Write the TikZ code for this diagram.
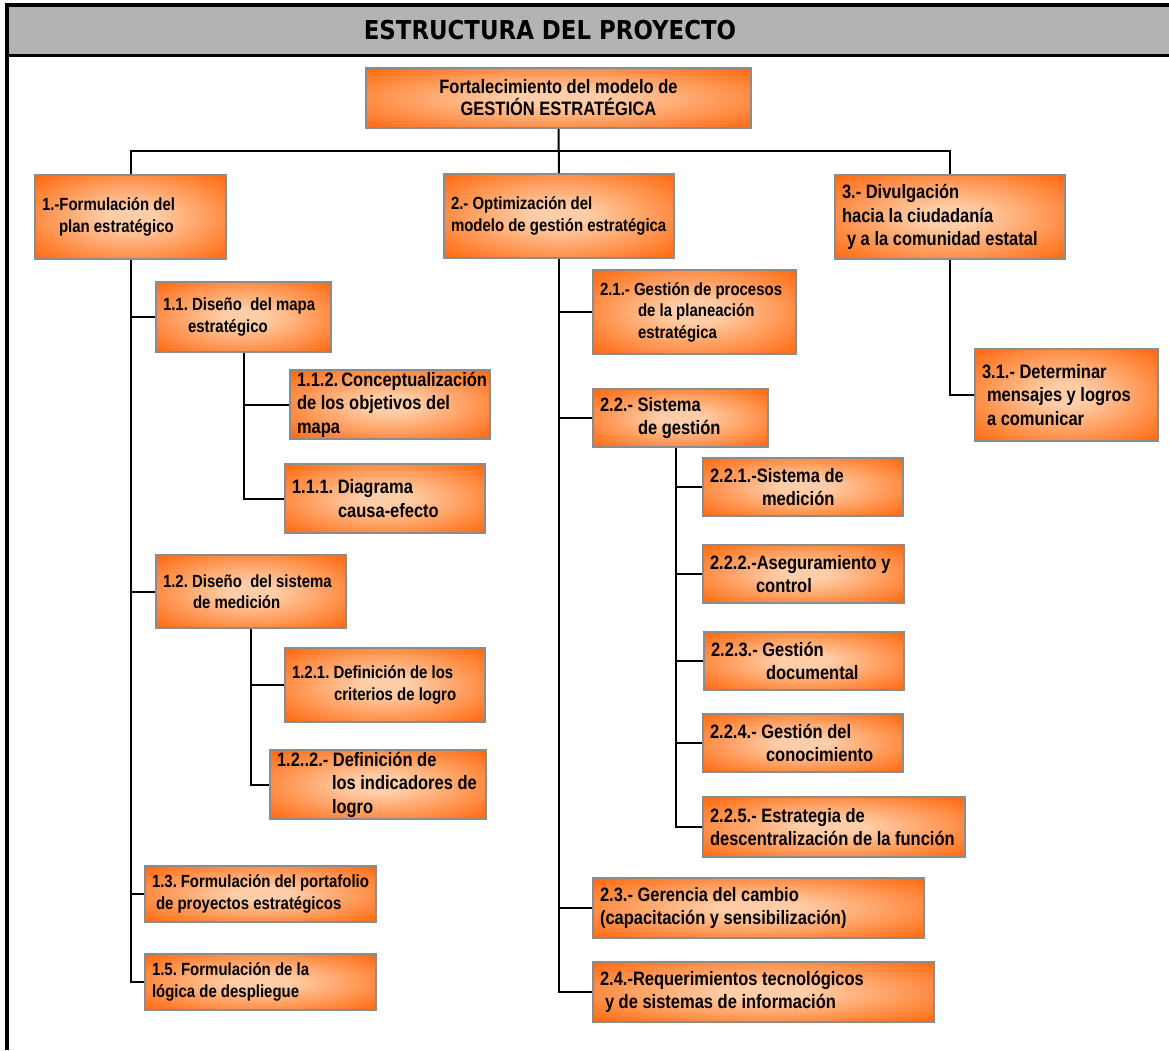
\documentclass[tikz,border=0pt]{standalone}
\usepackage{fontspec}
\setmainfont[FakeStretch=0.85]{Liberation Sans}
\newfontfamily\fuentetitulo[FakeStretch=0.88]{DejaVu Sans}
\definecolor{naranja}{RGB}{255,98,4}
\definecolor{claro}{RGB}{255,206,168}
\definecolor{borde}{RGB}{140,140,140}
\definecolor{gris}{RGB}{179,179,179}
\pgfdeclareradialshading{degradado}{\pgfpoint{0bp}{0bp}}{color(0bp)=(claro); color(6bp)=(claro); color(37bp)=(naranja); color(50bp)=(naranja)}
\frenchspacing
\begin{document}
\begin{tikzpicture}[x=1pt,y=-1pt,
  caja/.style={draw=borde,line width=2pt,shading=degradado,anchor=north west,inner xsep=7pt,inner ysep=0pt,align=flush left,execute at begin node={\hyphenpenalty=10000\exhyphenpenalty=10000}},
  letraA/.style={font=\bfseries\fontsize{17.6}{21.5}\selectfont\frenchspacing},
  letraB/.style={font=\bfseries\fontsize{19.4}{23.5}\selectfont\frenchspacing},
  linea/.style={line width=2pt}]
\useasboundingbox (0,0) rectangle (1169,1050);
\fill[gris] (7,5) rectangle (1169,55.5);
\draw[line width=4pt] (1169,5) -- (7,5) -- (7,1050);
\draw[line width=3pt] (7,55.5) -- (1169,55.5);
\node[font=\fuentetitulo\bfseries\fontsize{26}{28}\selectfont] (titulo) at (550,30) {ESTRUCTURA DEL PROYECTO};
\node[caja,align=flush center,font=\bfseries\fontsize{19.4}{22}\selectfont\frenchspacing,minimum width=385pt,minimum height=60pt,text width=371pt] (raiz) at (365,67) {Fortalecimiento del modelo de\\GESTIÓN ESTRATÉGICA};
\node[caja,letraA,minimum width=191pt,minimum height=84pt,text width=177pt] (p1) at (34,174) {1.-Formulación del\\\hspace*{17pt}plan estratégico};
\node[caja,letraA,minimum width=230pt,minimum height=84pt,text width=216pt] (p2) at (443,173) {2.- Optimización del\\modelo~de~gestión~estratégica};
\node[caja,letraB,minimum width=230pt,minimum height=84pt,text width=216pt] (p3) at (834,174) {3.- Divulgación\\hacia la ciudadanía\\\hspace*{5pt}y~a~la~comunidad~estatal};
\node[caja,letraA,minimum width=175pt,minimum height=70pt,text width=161pt] (p11) at (155,281) {1.1.~Diseño~~del~mapa\\\hspace*{25pt}estratégico};
\node[caja,letraB,minimum width=200pt,minimum height=69pt,text width=186pt] (p112) at (289,369) {1.1.2.~Conceptualización\\de los objetivos del\\mapa};
\node[caja,letraB,minimum width=200pt,minimum height=69pt,text width=186pt] (p111) at (284,463) {1.1.1. Diagrama\\\hspace*{46pt}causa-efecto};
\node[caja,letraA,minimum width=190pt,minimum height=73pt,text width=176pt] (p12) at (155,554) {1.2.~Diseño~~del~sistema\\\hspace*{30pt}de medición};
\node[caja,letraA,minimum width=200pt,minimum height=74pt,text width=186pt] (p121) at (284,647) {1.2.1.~Definición~de~los\\\hspace*{42pt}criterios~de~logro};
\node[caja,letraB,minimum width=216pt,minimum height=69pt,text width=202pt] (p122) at (269,749) {1.2..2.- Definición de\\\hspace*{55pt}los~indicadores~de\\\hspace*{55pt}logro};
\node[caja,letraA,minimum width=231pt,minimum height=56pt,text width=217pt] (p13) at (144,865) {1.3.~Formulación~del~portafolio\\\hspace*{4pt}de proyectos estratégicos};
\node[caja,letraA,minimum width=231pt,minimum height=56pt,text width=217pt] (p15) at (144,953) {1.5. Formulación de la\\lógica de despliegue};
\node[caja,letraA,minimum width=203pt,minimum height=84pt,text width=189pt] (p21) at (592,269) {2.1.-~Gestión~de~procesos\\\hspace*{38pt}de la planeación\\\hspace*{38pt}estratégica};
\node[caja,letraB,minimum width=175pt,minimum height=58pt,text width=161pt] (p22) at (592,388) {2.2.- Sistema\\\hspace*{38pt}de gestión};
\node[caja,letraB,minimum width=200pt,minimum height=58pt,text width=186pt] (p221) at (702,457) {2.2.1.-Sistema de\\\hspace*{52pt}medición};
\node[caja,letraB,minimum width=201pt,minimum height=58pt,text width=187pt] (p222) at (702,544) {2.2.2.-Aseguramiento~y\\\hspace*{46pt}control};
\node[caja,letraB,minimum width=200pt,minimum height=58pt,text width=186pt] (p223) at (703,631) {2.2.3.- Gestión\\\hspace*{55pt}documental};
\node[caja,letraB,minimum width=200pt,minimum height=58pt,text width=186pt] (p224) at (702,713) {2.2.4.- Gestión del\\\hspace*{56pt}conocimiento};
\node[caja,letraB,minimum width=262pt,minimum height=60pt,text width=248pt] (p225) at (702,796) {2.2.5.- Estrategia de\\descentralización~de~la~función};
\node[caja,letraB,minimum width=331pt,minimum height=60pt,text width=317pt] (p23) at (592,877) {2.3.- Gerencia del cambio\\(capacitación~y~sensibilización)};
\node[caja,letraB,minimum width=341pt,minimum height=60pt,text width=327pt] (p24) at (592,961) {2.4.-Requerimientos~tecnológicos\\\hspace*{5pt}y de sistemas de información};
\node[caja,letraB,minimum width=183pt,minimum height=92pt,text width=169pt] (p31) at (974,348) {3.1.- Determinar\\\hspace*{5pt}mensajes~y~logros\\\hspace*{5pt}a comunicar};
\coordinate (bus) at (558,151);
\draw[linea] (raiz.south) -- (p2.north);
\draw[linea] (p1.north) |- (bus) -| (p3.north);
\draw[linea] (p1.south) |- (p15.west);
\foreach \n in {p11,p12,p13} \draw[linea] (p1.south |- \n.west) -- (\n.west);
\draw[linea] (p11.south) |- (p111.west);
\draw[linea] (p11.south |- p112.west) -- (p112.west);
\draw[linea] (p12.south) |- (p122.west);
\draw[linea] (p12.south |- p121.west) -- (p121.west);
\draw[linea] (p2.south) |- (p24.west);
\foreach \n in {p21,p22,p23} \draw[linea] (p2.south |- \n.west) -- (\n.west);
\draw[linea] ([xshift=-5pt]p22.south) |- (p225.west);
\foreach \n in {p221,p222,p223,p224} \draw[linea] ([xshift=-5pt]p22.south |- \n.west) -- (\n.west);
\draw[linea] (p3.south) |- (p31.west);
\end{tikzpicture}
\end{document}
